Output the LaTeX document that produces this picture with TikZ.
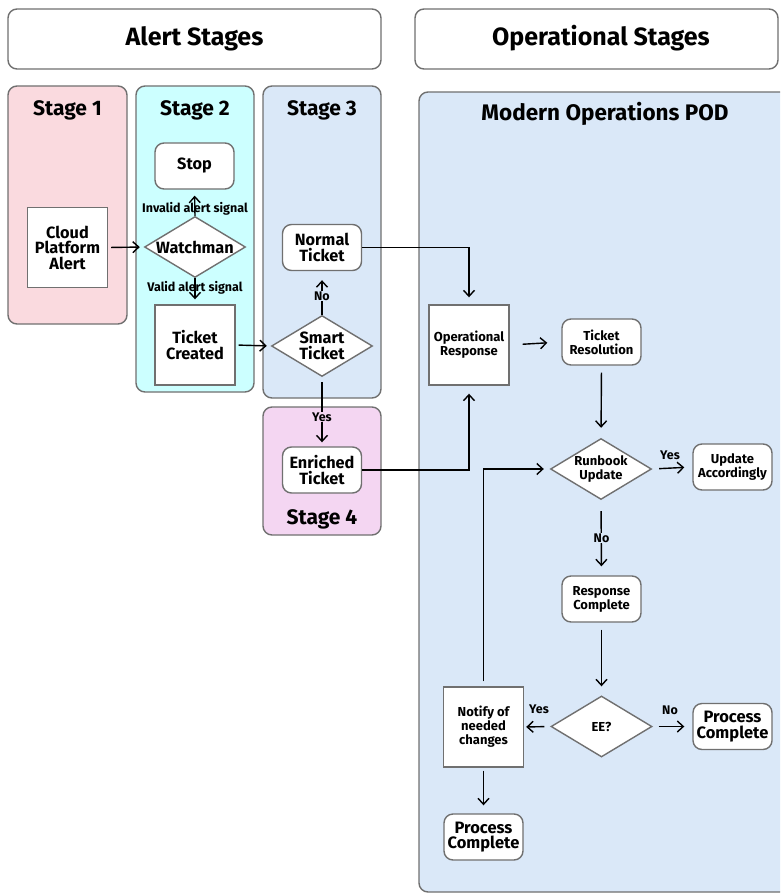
\documentclass[tikz,border=0pt]{standalone}
\usepackage{fontspec}
\setmainfont{Fira Sans}
\usetikzlibrary{arrows.meta,shapes.geometric}
\definecolor{edgegray}{HTML}{707070}
\definecolor{stpink}{HTML}{FADADF}
\definecolor{stcyan}{HTML}{CCFFFF}
\definecolor{stblue}{HTML}{DAE8F8}
\definecolor{stviolet}{HTML}{F4D6F2}

\begin{document}
\begin{tikzpicture}[x=1pt,y=-1pt,
  bord/.style={draw=edgegray, line width=1.4pt},
  panel/.style={bord, rounded corners=9pt},
  hdr/.style={font=\fontsize{25}{27}\selectfont\bfseries, anchor=base},
  ttl/.style={font=\fontsize{21}{23}\selectfont\bfseries, anchor=base},
  big/.style={font=\fontsize{16.3}{15.5}\selectfont\bfseries},
  sml/.style={font=\fontsize{13}{14}\selectfont\bfseries},
  lbl/.style={font=\fontsize{12.5}{13}\selectfont\bfseries, inner sep=1pt},
  proc/.style={bord, fill=white, align=center, inner sep=0pt,
    minimum width=80pt, minimum height=80pt},
  term/.style={bord, fill=white, align=center, inner sep=0pt, rounded corners=9pt,
    minimum width=79pt, minimum height=46pt},
  dec/.style={bord, fill=white, diamond, inner sep=0pt,
    minimum width=101pt, minimum height=61pt},
  arr/.style={-{Straight Barb[length=6pt,width=11pt]}, line width=1.4pt}]
  \clip (0,0) rectangle (780,893);

  % headers
  \draw[panel, fill=white] (8,9) rectangle (381,69);
  \node[hdr] (hdrA) at (194.5,46) {Alert Stages};
  \draw[panel, fill=white] (415,9) rectangle (778,69);
  \node[hdr] (hdrB) at (601,46) {Operational Stages};

  % stage panels
  \draw[panel, fill=stpink] (8,86) rectangle (127,324);
  \draw[panel, fill=stcyan] (136,86) rectangle (254,392);
  \draw[panel, fill=stblue] (263,86) rectangle (381,398);
  \draw[panel, fill=stviolet] (263,407) rectangle (381,535);
  \draw[panel, fill=stblue] (419,92) rectangle (800,892);
  \node[ttl] (t1) at (67.5,116) {Stage 1};
  \node[ttl] (t2) at (195,116) {Stage 2};
  \node[ttl] (t3) at (322,116) {Stage 3};
  \node[ttl] (t4) at (322,524) {Stage 4};
  \node[ttl, font=\fontsize{22.5}{24}\selectfont\bfseries] (tpod) at (605,121) {Modern Operations POD};

  % alert stages
  \node[proc, big] (cloud) at (67.5,247.5) {Cloud\\Platform\\Alert};
  \node[term, big] (stop) at (194.5,166) {Stop};
  \node[dec, label={[big]center:Watchman}] (watch) at (195,247) {};
  \node[proc, big] (ticket) at (195,345) {Ticket\\Created};
  \node[term, big] (normal) at (322,247.5) {Normal\\Ticket};
  \node[dec, label={[big, align=center]center:{Smart\\Ticket}}] (smart) at (322,346) {};
  \node[term, big] (enriched) at (322,470) {Enriched\\Ticket};

  \draw[arr, shorten <=3pt, shorten >=4pt] (cloud.east) -- (watch.west);
  \draw[arr, shorten <=0pt, shorten >=6pt] (watch.north) -- (stop.south);
  \node[lbl] (inval) at (195,209) {Invalid alert signal};
  \draw[arr, shorten <=0pt, shorten >=5pt] (watch.south) -- (ticket.north);
  \node[lbl] (valid) at (195,288) {Valid alert signal};
  \draw[arr, shorten <=3pt, shorten >=4pt] (ticket.east) -- (smart.west);
  \draw[arr, shorten <=0pt, shorten >=9pt] (smart.north) -- (normal.south);
  \node[lbl, fill=stblue] (lno1) at (322,296) {No};
  \draw[arr, shorten <=5pt, shorten >=4pt] (smart.south) -- (enriched.north);
  \node[lbl, fill=stviolet] (lyes1) at (322,417) {Yes};

  % operational stages
  \node[proc, sml] (opresp) at (469,345) {Operational\\Response};
  \node[term, sml] (tres) at (601.5,342) {Ticket\\Resolution};
  \node[dec, label={[sml, align=center]center:{Runbook\\Update}}] (runbook) at (601,469) {};
  \node[term, sml] (upd) at (732.5,467) {Update\\Accordingly};
  \node[term, sml] (rcomp) at (601.5,599) {Response\\Complete};
  \node[dec, label={[sml]center:EE?}] (ee) at (601.5,726.5) {};
  \node[term, big, font=\fontsize{16.5}{15.5}\selectfont\bfseries] (pcR) at (732.5,726.5) {Process\\Complete};
  \node[proc, sml] (notify) at (483.5,727) {Notify of\\needed\\changes};
  \node[term, big, font=\fontsize{16.5}{15.5}\selectfont\bfseries] (pcB) at (483.5,837) {Process\\Complete};

  \draw[arr, shorten >=7pt] (normal.east) -| (opresp.north);
  \draw[arr, shorten >=8pt] (enriched.east) -| (opresp.south);
  \draw[arr, shorten <=13pt, shorten >=14pt] (opresp.east) -- (tres.west);
  \draw[arr, shorten <=7pt, shorten >=10pt] (tres.south) -- (runbook.north);
  \draw[arr, shorten <=7pt, shorten >=8pt] (runbook.east) -- (upd.west);
  \node[lbl] (lyes2) at (670,455) {Yes};
  \draw[arr, shorten <=11pt, shorten >=9pt] (runbook.south) -- (rcomp.north);
  \node[lbl, fill=stblue] (lno2) at (601.5,538) {No};
  \draw[arr, shorten <=7pt, shorten >=9pt] (rcomp.south) -- (ee.north);
  \draw[arr, shorten <=6pt, shorten >=2pt] (ee.west) -- (notify.east);
  \node[lbl] (lyes3) at (539,709) {Yes};
  \draw[arr, shorten <=6pt, shorten >=8pt] (ee.east) -- (pcR.west);
  \node[lbl] (lno3) at (670,710) {No};
  \draw[arr, shorten <=3pt, shorten >=8pt] (notify.south) -- (pcB.north);
  \draw[arr, shorten <=5pt, shorten >=6pt] (notify.north) |- (runbook.west);
\end{tikzpicture}
\end{document}
